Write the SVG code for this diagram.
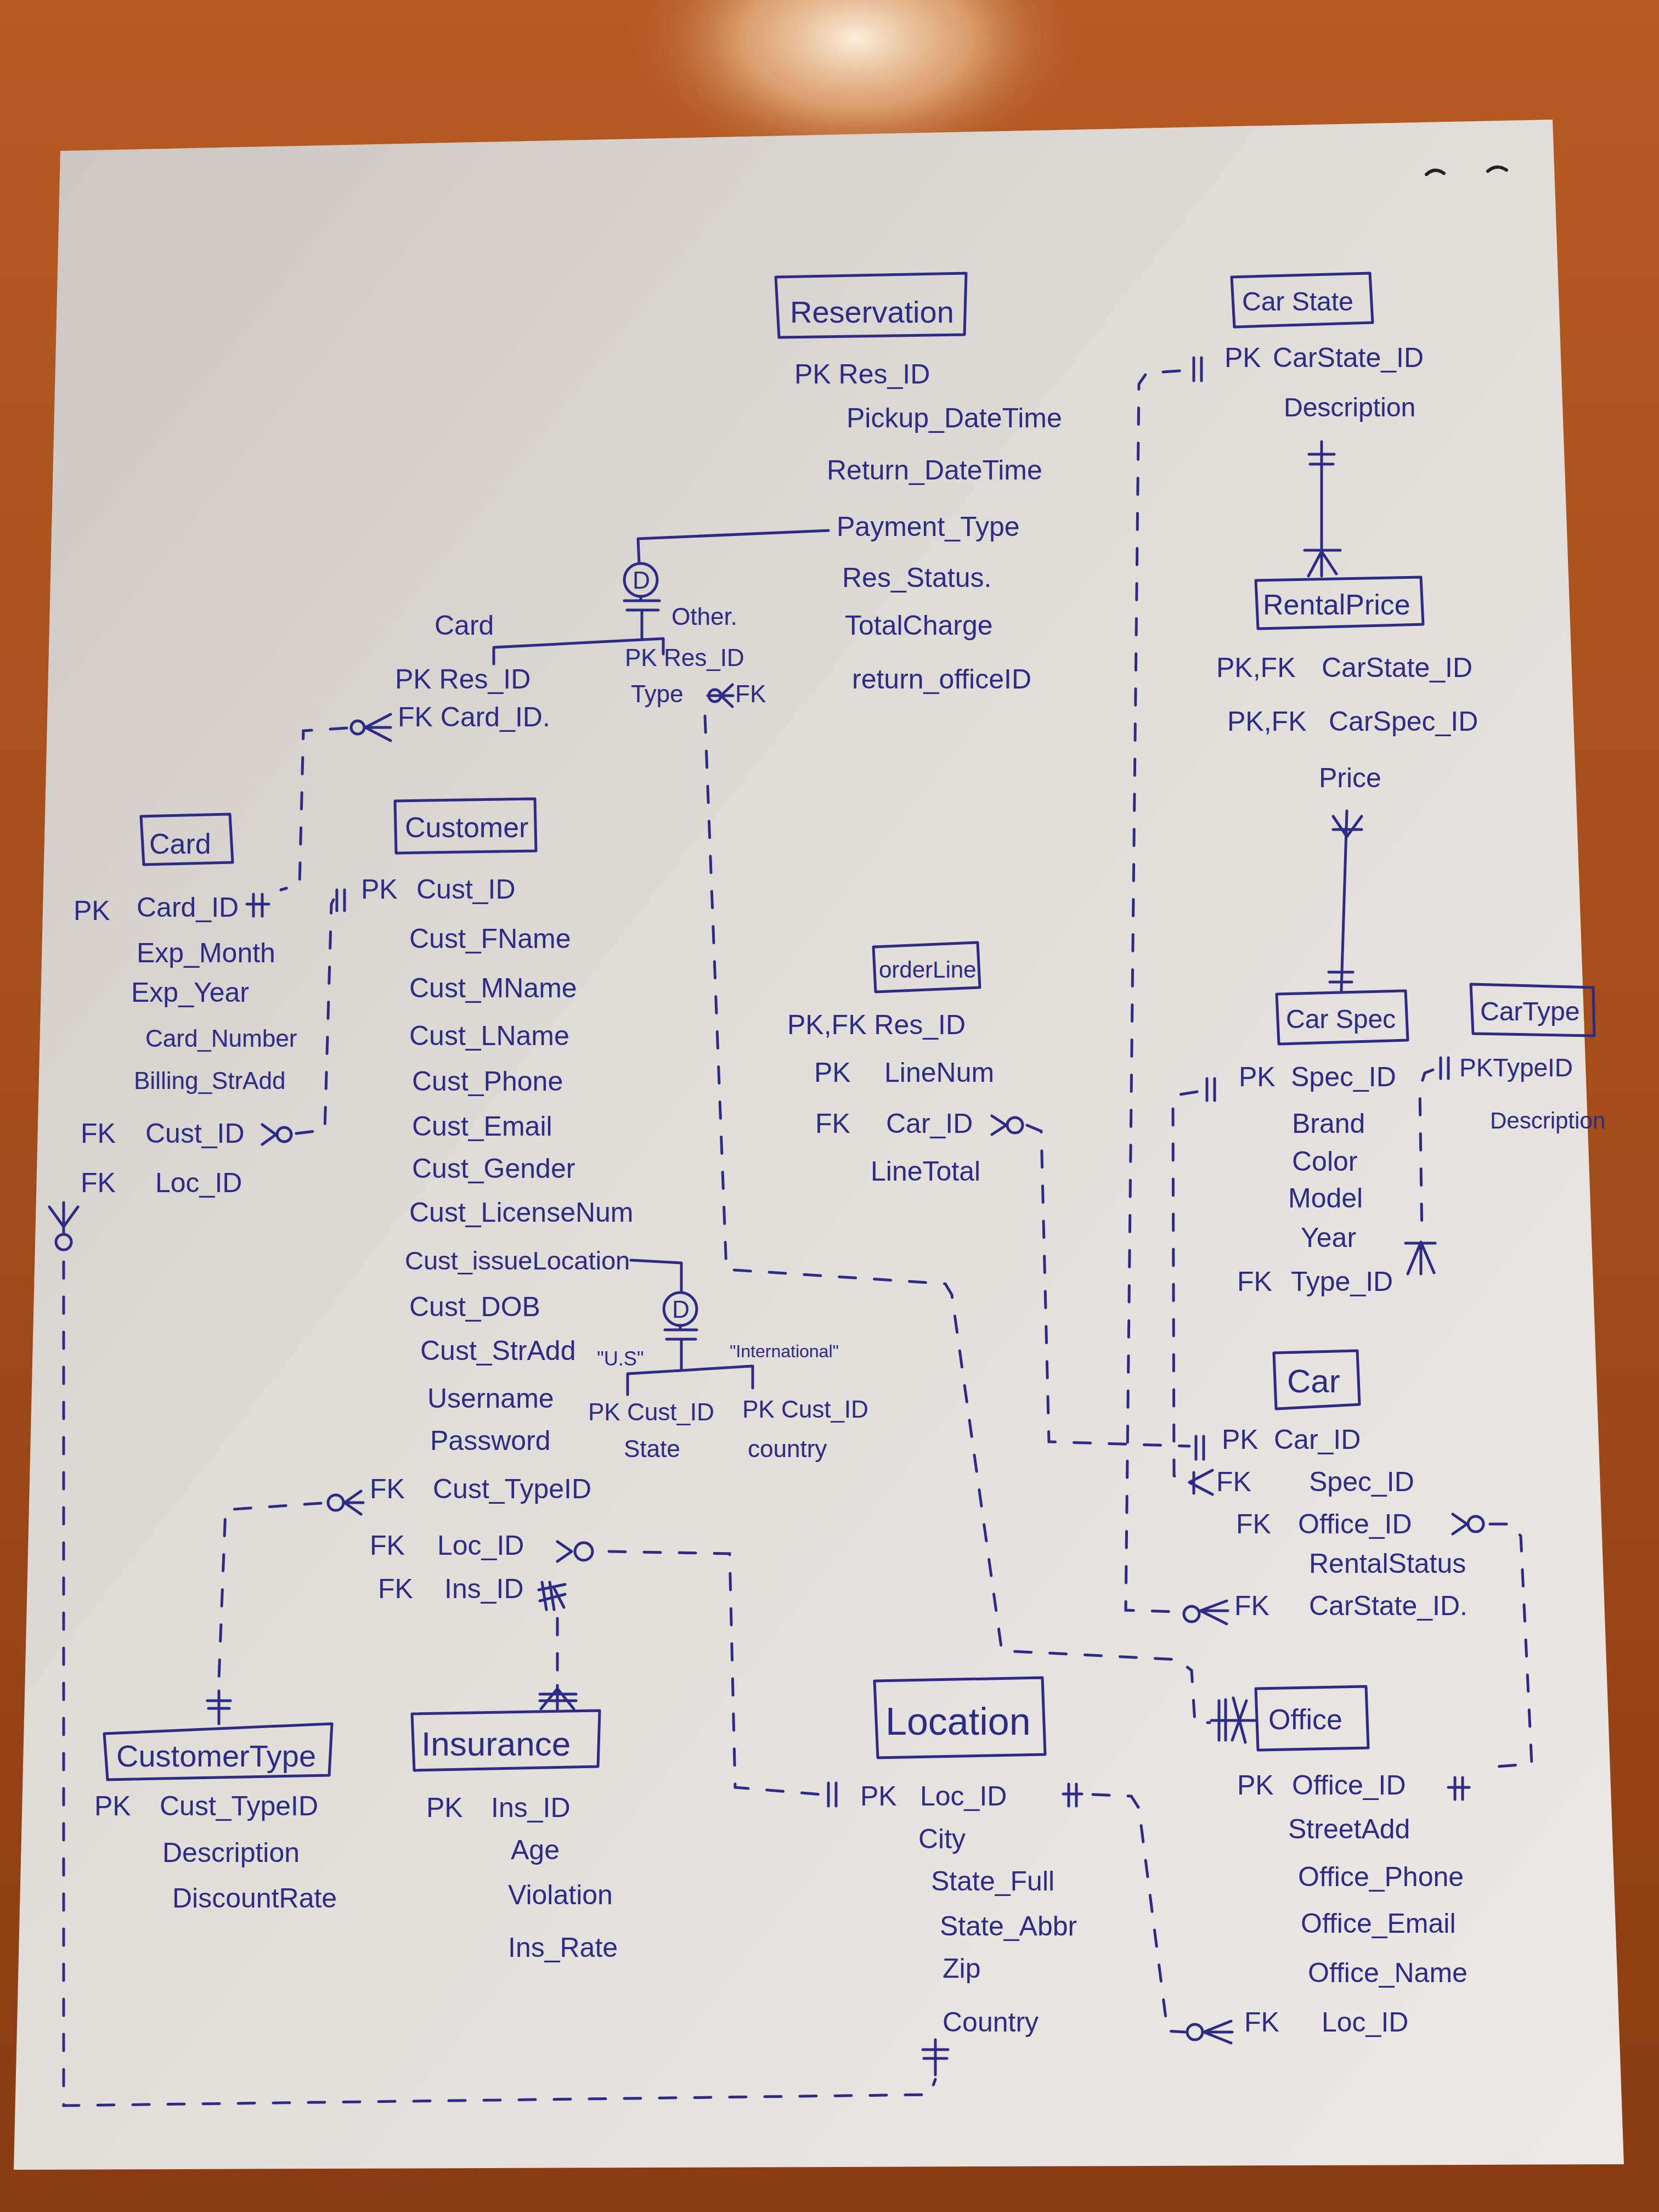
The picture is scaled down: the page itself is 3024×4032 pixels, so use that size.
<svg xmlns="http://www.w3.org/2000/svg" width="3024" height="4032" viewBox="0 0 3024 4032">
<defs>
<linearGradient id="wood" x1="0" y1="0" x2="0" y2="1">
<stop offset="0" stop-color="#b65a22"/>
<stop offset="0.5" stop-color="#a44d1b"/>
<stop offset="1" stop-color="#8a3b12"/>
</linearGradient>
<radialGradient id="glare" cx="0.5" cy="0.5" r="0.5">
<stop offset="0" stop-color="#fbeedb" stop-opacity="1"/>
<stop offset="0.5" stop-color="#e9b98a" stop-opacity="0.7"/>
<stop offset="1" stop-color="#b65a22" stop-opacity="0"/>
</radialGradient>
<linearGradient id="paper" x1="0" y1="0" x2="1" y2="1">
<stop offset="0" stop-color="#cbc6c2"/>
<stop offset="0.45" stop-color="#e1ddd9"/>
<stop offset="1" stop-color="#ebe8e6"/>
</linearGradient>
<style>
.t{font-family:"Liberation Sans",Arial,sans-serif;font-size:50px;fill:#2d2b86}
.h{font-size:52px}
.s{font-size:44px}
.xs{font-size:36px}
.box{fill:none;stroke:#2d2b86;stroke-width:5;stroke-linejoin:round}
.ln{fill:none;stroke:#2d2b86;stroke-width:5;stroke-linecap:round;stroke-linejoin:round}
.dash{fill:none;stroke:#2d2b86;stroke-width:5;stroke-dasharray:30 34;stroke-linecap:round}
</style>
</defs>

<g id="background">
<rect width="3024" height="4032" fill="url(#wood)"/>
<ellipse cx="1560" cy="70" rx="420" ry="260" fill="url(#glare)"/>
<polygon points="110,275 2830,218 2960,3945 25,3955" fill="url(#paper)"/>
<path d="M2600 318 q15 -14 32 -2 M2712 312 q16 -14 34 -2" fill="none" stroke="#222" stroke-width="6" stroke-linecap="round"/>
</g>

<g id="connectors">
<path class="ln" d="M1510 967 L1163 982 L1165 1027"/>
<circle class="ln" cx="1168" cy="1057" r="30"/>
<text class="t s" x="1153" y="1073">D</text>
<path class="ln" d="M1168 1087 V1095 M1138 1095 H1202 M1143 1112 H1200 M1170 1112 V1166 M900 1210 V1180 L1209 1164 V1192"/>
<path class="ln" d="M1150 2297 L1242 2302 L1242 2356"/>
<circle class="ln" cx="1240" cy="2386" r="30"/>
<text class="t s" x="1225" y="2402">D</text>
<path class="ln" d="M1240 2416 V2424 M1212 2424 H1270 M1215 2441 H1268 M1242 2441 V2497 M1144 2542 V2504 L1372 2490 V2530"/>
<path class="ln" d="M2409 805 V1050 M2386 828 H2432 M2388 846 H2430 M2378 1003 H2443 M2385 1050 L2409 1005 L2436 1046"/>
<path class="ln" d="M2455 1478 L2445 1806 M2430 1488 L2455 1525 L2482 1488 M2430 1512 H2482 M2422 1772 H2466 M2424 1790 H2464"/>

<path class="dash" d="M632 1327 L553 1332 L546 1612 L512 1622"/>
<circle class="ln" cx="652" cy="1326" r="12"/>
<path class="ln" d="M712 1302 L666 1326 L712 1350 M666 1326 H712"/>
<path class="ln" d="M462 1630 V1670 M478 1630 V1670 M450 1648 H490"/>
<path class="dash" d="M540 2066 L592 2060 L604 1648 L608 1640"/>
<path class="ln" d="M478 2050 L503 2068 L478 2086"/>
<circle class="ln" cx="518" cy="2068" r="13"/>
<path class="ln" d="M614 1622 V1660 M628 1622 V1660"/>
<path class="ln" d="M90 2200 L116 2236 L142 2200 M116 2192 V2250"/>
<circle class="ln" cx="116" cy="2264" r="14"/>
<path class="dash" d="M116 2300 L116 3838 L1695 3818 L1705 3790"/>
<path class="ln" d="M1705 3718 V3782 M1682 3736 H1728 M1684 3752 H1726"/>
<path class="dash" d="M585 2740 L411 2752 L399 3060"/>
<circle class="ln" cx="612" cy="2739" r="14"/>
<path class="ln" d="M658 2718 L628 2739 L658 2760 M628 2739 H662"/>
<path class="ln" d="M399 3082 V3142 M378 3100 H420 M380 3114 H418"/>
<path class="ln" d="M1016 2810 L1042 2828 L1016 2846"/>
<circle class="ln" cx="1064" cy="2828" r="16"/>
<path class="dash" d="M1110 2828 L1330 2832 L1340 3258 L1498 3271"/>
<path class="ln" d="M1510 3250 V3292 M1524 3250 V3292"/>
<path class="ln" d="M988 2884 L996 2934 M1002 2884 L1010 2934 M982 2898 L1030 2888 M984 2918 L1030 2906 M1010 2895 L1028 2930"/>
<path class="dash" d="M1016 2950 L1016 3070"/>
<path class="ln" d="M1016 3072 V3118 M986 3115 L1016 3078 L1046 3115 M984 3088 H1050 M984 3100 H1050"/>
<circle class="ln" cx="1303" cy="1268" r="11"/>
<path class="ln" d="M1335 1248 L1314 1268 L1335 1288 M1290 1268 H1336"/>
<path class="dash" d="M1285 1305 L1324 2314 L1723 2340 L1735 2360 L1826 3009 L2147 3025 L2172 3045 L2178 3140 L2205 3140"/>
<path class="ln" d="M2222 3100 V3172 M2234 3098 V3172 M2248 3095 L2270 3176 M2272 3100 L2246 3172 M2208 3136 H2289"/>
<path class="ln" d="M1808 2034 L1834 2051 L1808 2068"/>
<circle class="ln" cx="1850" cy="2051" r="14"/>
<path class="dash" d="M1872 2051 L1898 2062 L1912 2628 L2168 2636"/>
<path class="ln" d="M2180 2618 V2660 M2194 2618 V2660"/>
<path class="dash" d="M2150 676 L2090 680 L2076 700 L2052 2935 L2150 2938"/>
<path class="ln" d="M2176 652 V694 M2190 652 V694"/>
<circle class="ln" cx="2172" cy="2942" r="14"/>
<path class="ln" d="M2236 2918 L2188 2936 L2236 2960 M2188 2936 H2238"/>
<path class="dash" d="M2182 1990 L2145 1996 L2138 2012 L2140 2690 L2158 2700"/>
<path class="ln" d="M2200 1966 V2006 M2214 1966 V2006"/>
<path class="ln" d="M2210 2680 L2168 2702 L2210 2724 M2176 2684 V2722"/>
<path class="dash" d="M2612 1950 L2597 1956 L2588 1985 L2592 2255"/>
<path class="ln" d="M2626 1928 V1966 M2640 1928 V1966"/>
<path class="ln" d="M2562 2266 H2616 M2566 2322 L2590 2264 L2614 2320 M2590 2264 V2322"/>
<path class="ln" d="M2648 2760 L2674 2778 L2648 2796"/>
<circle class="ln" cx="2690" cy="2778" r="14"/>
<path class="dash" d="M2716 2778 L2755 2778 L2772 2800 L2792 3215 L2730 3220"/>
<path class="ln" d="M2652 3240 V3280 M2666 3240 V3280 M2640 3258 H2678"/>
<path class="ln" d="M1948 3252 V3292 M1962 3252 V3292 M1938 3270 H1972"/>
<path class="dash" d="M1992 3271 L2062 3274 L2076 3296 L2128 3702 L2160 3704"/>
<circle class="ln" cx="2178" cy="3704" r="14"/>
<path class="ln" d="M2244 3684 L2194 3704 L2244 3724 M2194 3704 H2246"/>
</g>

<g id="reservation">
<path class="box" d="M1414 505 L1761 498 L1758 610 L1420 615 Z"/>
<text class="t" x="1440" y="588" style="font-size:56px">Reservation</text>
<text class="t" x="1448" y="699">PK Res_ID</text>
<text class="t" x="1543" y="779">Pickup_DateTime</text>
<text class="t" x="1507" y="874">Return_DateTime</text>
<text class="t" x="1525" y="977">Payment_Type</text>
<text class="t" x="1535" y="1070">Res_Status.</text>
<text class="t" x="1540" y="1157">TotalCharge</text>
<text class="t" x="1553" y="1255">return_officeID</text>
</g>

<g id="card-subtype">
<text class="t" x="792" y="1157">Card</text>
<text class="t" x="720" y="1255">PK Res_ID</text>
<text class="t" x="725" y="1324">FK Card_ID.</text>
</g>

<g id="other-subtype">
<text class="t s" x="1224" y="1139">Other.</text>
<text class="t s" x="1139" y="1214">PK Res_ID</text>
<text class="t s" x="1150" y="1280">Type</text>
<text class="t s" x="1340" y="1280">FK</text>
</g>

<g id="card">
<path class="box" d="M257 1488 L419 1484 L424 1572 L262 1576 Z"/>
<text class="t h" x="272" y="1556">Card</text>
<text class="t" x="134" y="1677">PK</text>
<text class="t" x="249" y="1671">Card_ID</text>
<text class="t" x="249" y="1754">Exp_Month</text>
<text class="t" x="239" y="1826">Exp_Year</text>
<text class="t s" x="265" y="1908">Card_Number</text>
<text class="t s" x="244" y="1985">Billing_StrAdd</text>
<text class="t" x="147" y="2083">FK</text>
<text class="t" x="265" y="2083">Cust_ID</text>
<text class="t" x="147" y="2173">FK</text>
<text class="t" x="283" y="2173">Loc_ID</text>
</g>

<g id="customer">
<path class="box" d="M720 1460 L975 1456 L977 1551 L722 1555 Z"/>
<text class="t h" x="738" y="1526">Customer</text>
<text class="t" x="658" y="1638">PK</text>
<text class="t" x="759" y="1638">Cust_ID</text>
<text class="t" x="746" y="1728">Cust_FName</text>
<text class="t" x="746" y="1818">Cust_MName</text>
<text class="t" x="746" y="1905">Cust_LName</text>
<text class="t" x="751" y="1988">Cust_Phone</text>
<text class="t" x="751" y="2070">Cust_Email</text>
<text class="t" x="751" y="2147">Cust_Gender</text>
<text class="t" x="746" y="2227">Cust_LicenseNum</text>
<text class="t" x="738" y="2314" style="font-size:47px">Cust_issueLocation</text>
<text class="t" x="746" y="2399">Cust_DOB</text>
<text class="t" x="766" y="2479">Cust_StrAdd</text>
<text class="t" x="779" y="2566">Username</text>
<text class="t" x="784" y="2643">Password</text>
<text class="t" x="674" y="2731">FK</text>
<text class="t" x="789" y="2731">Cust_TypeID</text>
<text class="t" x="674" y="2834">FK</text>
<text class="t" x="797" y="2834">Loc_ID</text>
<text class="t" x="689" y="2913">FK</text>
<text class="t" x="810" y="2913">Ins_ID</text>
</g>

<g id="customer-subtypes">
<text class="t xs" x="1088" y="2489">"U.S"</text>
<text class="t" x="1330" y="2474" style="font-size:32px">"International"</text>
<text class="t s" x="1072" y="2589">PK Cust_ID</text>
<text class="t s" x="1137" y="2656">State</text>
<text class="t s" x="1353" y="2584">PK Cust_ID</text>
<text class="t s" x="1363" y="2656">country</text>
</g>

<g id="orderline">
<path class="box" d="M1592 1726 L1782 1718 L1786 1800 L1596 1808 Z"/>
<text class="t" x="1602" y="1782" style="font-size:42px">orderLine</text>
<text class="t" x="1435" y="1885">PK,FK Res_ID</text>
<text class="t" x="1484" y="1972">PK</text>
<text class="t" x="1612" y="1972">LineNum</text>
<text class="t" x="1486" y="2065">FK</text>
<text class="t" x="1615" y="2065">Car_ID</text>
<text class="t" x="1587" y="2152">LineTotal</text>
</g>

<g id="carstate">
<path class="box" d="M2245 505 L2497 498 L2502 588 L2250 596 Z"/>
<text class="t" x="2264" y="566" style="font-size:48px">Car State</text>
<text class="t" x="2232" y="669">PK</text>
<text class="t" x="2320" y="669">CarState_ID</text>
<text class="t" x="2340" y="759" style="font-size:48px">Description</text>
</g>

<g id="rentalprice">
<path class="box" d="M2289 1058 L2590 1052 L2594 1138 L2293 1146 Z"/>
<text class="t h" x="2302" y="1120">RentalPrice</text>
<text class="t" x="2217" y="1234">PK,FK</text>
<text class="t" x="2409" y="1234">CarState_ID</text>
<text class="t" x="2237" y="1332">PK,FK</text>
<text class="t" x="2422" y="1332">CarSpec_ID</text>
<text class="t" x="2404" y="1435">Price</text>
</g>

<g id="carspec">
<path class="box" d="M2327 1812 L2562 1806 L2566 1896 L2331 1903 Z"/>
<text class="t" x="2344" y="1874" style="font-size:48px">Car Spec</text>
<text class="t" x="2258" y="1980">PK</text>
<text class="t" x="2353" y="1980">Spec_ID</text>
<text class="t" x="2355" y="2065">Brand</text>
<text class="t" x="2355" y="2134">Color</text>
<text class="t" x="2348" y="2201">Model</text>
<text class="t" x="2371" y="2273">Year</text>
<text class="t" x="2255" y="2353">FK</text>
<text class="t" x="2353" y="2353">Type_ID</text>
</g>

<g id="cartype">
<path class="box" d="M2681 1794 L2904 1800 L2906 1888 L2685 1884 Z"/>
<text class="t" x="2698" y="1860" style="font-size:48px">CarType</text>
<text class="t" x="2660" y="1962" style="font-size:46px">PKTypeID</text>
<text class="t" x="2716" y="2057" style="font-size:42px">Description</text>
</g>

<g id="car">
<path class="box" d="M2322 2466 L2474 2462 L2478 2560 L2326 2568 Z"/>
<text class="t" x="2346" y="2538" style="font-size:60px">Car</text>
<text class="t" x="2227" y="2641">PK</text>
<text class="t" x="2322" y="2641">Car_ID</text>
<text class="t" x="2217" y="2718">FK</text>
<text class="t" x="2386" y="2718">Spec_ID</text>
<text class="t" x="2253" y="2795">FK</text>
<text class="t" x="2366" y="2795">Office_ID</text>
<text class="t" x="2386" y="2867">RentalStatus</text>
<text class="t" x="2250" y="2944">FK</text>
<text class="t" x="2386" y="2944">CarState_ID.</text>
</g>

<g id="office">
<path class="box" d="M2289 3078 L2490 3074 L2494 3186 L2293 3190 Z"/>
<text class="t h" x="2312" y="3152">Office</text>
<text class="t" x="2255" y="3271">PK</text>
<text class="t" x="2355" y="3271">Office_ID</text>
<text class="t" x="2348" y="3351">StreetAdd</text>
<text class="t" x="2366" y="3438">Office_Phone</text>
<text class="t" x="2371" y="3523">Office_Email</text>
<text class="t" x="2384" y="3613">Office_Name</text>
<text class="t" x="2268" y="3703">FK</text>
<text class="t" x="2409" y="3703">Loc_ID</text>
</g>

<g id="location">
<path class="box" d="M1594 3064 L1900 3058 L1905 3198 L1600 3204 Z"/>
<text class="t" x="1614" y="3162" style="font-size:70px">Location</text>
<text class="t" x="1568" y="3291">PK</text>
<text class="t" x="1677" y="3291">Loc_ID</text>
<text class="t" x="1674" y="3369">City</text>
<text class="t" x="1697" y="3446">State_Full</text>
<text class="t" x="1713" y="3528">State_Abbr</text>
<text class="t" x="1718" y="3605">Zip</text>
<text class="t" x="1718" y="3703">Country</text>
</g>

<g id="customertype">
<path class="box" d="M190 3160 L605 3142 L600 3236 L196 3244 Z"/>
<text class="t" x="212" y="3220" style="font-size:56px">CustomerType</text>
<text class="t" x="172" y="3309">PK</text>
<text class="t" x="291" y="3309">Cust_TypeID</text>
<text class="t" x="296" y="3394">Description</text>
<text class="t" x="314" y="3477">DiscountRate</text>
</g>

<g id="insurance">
<path class="box" d="M751 3124 L1093 3118 L1090 3220 L755 3227 Z"/>
<text class="t" x="768" y="3200" style="font-size:62px">Insurance</text>
<text class="t" x="777" y="3312">PK</text>
<text class="t" x="895" y="3312">Ins_ID</text>
<text class="t" x="931" y="3389">Age</text>
<text class="t" x="926" y="3471">Violation</text>
<text class="t" x="926" y="3567">Ins_Rate</text>
</g>
</svg>
